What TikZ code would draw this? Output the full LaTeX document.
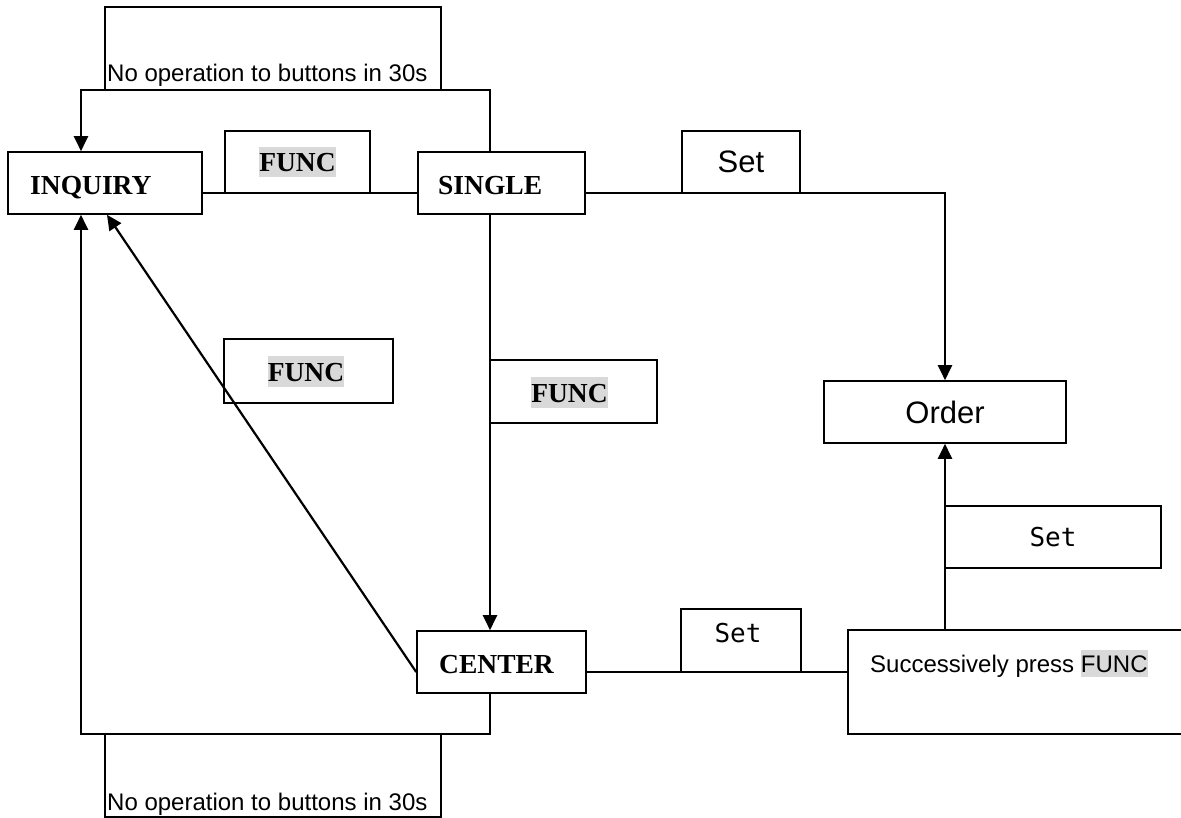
\documentclass[tikz,border=0pt]{standalone}
\usepackage{fontspec}
\usetikzlibrary{arrows.meta,calc}
\setmainfont{Liberation Serif}
\newfontfamily\arialf{Liberation Sans}
\newfontfamily\tnrf{Liberation Serif}
\newfontfamily\monof{DejaVu Sans Mono}
\definecolor{hlgray}{HTML}{D9D9D9}
\newcommand\hlbox[1]{{\setlength\fboxsep{0pt}\colorbox{hlgray}{\rule[-0.21em]{0pt}{1.12em}#1}}}
\tikzset{
  box/.style={draw, line width=1.6bp, inner sep=0pt},
  tag/.style={draw, line width=1.4bp, inner sep=0pt},
  conn/.style={line width=2.2bp},
  arr/.style={conn, -{Triangle[length=15bp,width=14bp]}},
  boldtxt/.style={font=\tnrf\bfseries\fontsize{27.5bp}{30bp}\selectfont, inner sep=0pt},
  sans24/.style={font=\arialf\fontsize{24bp}{28bp}\selectfont, inner sep=0pt},
  sans31/.style={font=\arialf\fontsize{31bp}{36bp}\selectfont, inner sep=0pt},
  monotxt/.style={font=\monof\fontsize{26bp}{30bp}\selectfont, inner sep=0pt},
}
\begin{document}
\begin{tikzpicture}[x=1bp,y=-1bp]
\useasboundingbox (0,0) rectangle (1181,818);
\fill[white] (0,0) rectangle (1181,818);

% main boxes
\node[box, minimum width=194bp, minimum height=62bp] (inq) at (105,183) {};
\node[boldtxt, anchor=base west] (inqT) at (30,194) {INQUIRY};
\node[box, minimum width=167bp, minimum height=62bp] (single) at (501.5,183) {};
\node[boldtxt, anchor=base west] (singleT) at (438,194) {SINGLE};
\node[box, minimum width=169bp, minimum height=62bp] (center) at (501.5,662) {};
\node[boldtxt, anchor=base west] (centerT) at (439,673) {CENTER};
\node[box, sans31, minimum width=242bp, minimum height=62bp] (order) at (945,412) {Order};
\node[box, minimum width=352bp, minimum height=104bp] (succ) at (1024,682) {};
\node[sans24, anchor=base west] (succT) at (870,672) {Successively press \hlbox{FUNC}};

% label tags
\node[tag, minimum width=336bp, minimum height=83bp] (topL) at (273,48.5) {};
\node[sans24, anchor=base west] (topLT) at (107,82) {No operation to buttons in 30s};
\node[tag, minimum width=336bp, minimum height=83bp] (botL) at (273,775.5) {};
\node[sans24, anchor=base west] (botLT) at (107,810) {No operation to buttons in 30s};
\node[tag, boldtxt, minimum width=145bp, minimum height=62bp] (f1) at (297.5,162) {\hlbox{FUNC}};
\node[tag, minimum width=169bp, minimum height=64bp] (f2) at (308.5,371) {};
\node[boldtxt] (f2T) at (306,371.5) {\hlbox{FUNC}};
\node[tag, minimum width=167bp, minimum height=63bp] (f3) at (573.5,391.5) {};
\node[boldtxt] (f3T) at (569.5,392.5) {\hlbox{FUNC}};
\node[tag, sans31, minimum width=118bp, minimum height=62bp] (s1) at (741,162) {Set};
\node[tag, minimum width=120bp, minimum height=63bp] (s2) at (741,640.5) {};
\node[monotxt] (s2T) at (738,633) {Set};
\node[tag, monotxt, minimum width=216bp, minimum height=62bp] (s3) at (1053,537) {Set};

% routing points
\coordinate (tl) at (81,90);
\coordinate (tr) at (490,90);
\coordinate (bl) at (81,734);
\coordinate (br) at (490,734);
\coordinate (midY) at (0,193);
\coordinate (lowY) at (0,672);
\coordinate (corner) at (945,193);

% connectors
\draw[arr] (tr |- single.north) -- (tr) -- (tl) -- (tl |- inq.north);
\draw[conn] (inq.east |- midY) -- (single.west |- midY);
\draw[arr] (single.east |- midY) -- (corner) -- (order.north);
\draw[arr] (tr |- single.south) -- (tr |- center.north);
\draw[arr] (center.west |- lowY) -- ($(inq.south)+(2,0)$);
\draw[arr] (br |- center.south) -- (br) -- (bl) -- (bl |- inq.south);
\draw[conn] (center.east |- lowY) -- (succ.west |- lowY);
\draw[arr] (order.south |- succ.north) -- (order.south);
\end{tikzpicture}
\end{document}
